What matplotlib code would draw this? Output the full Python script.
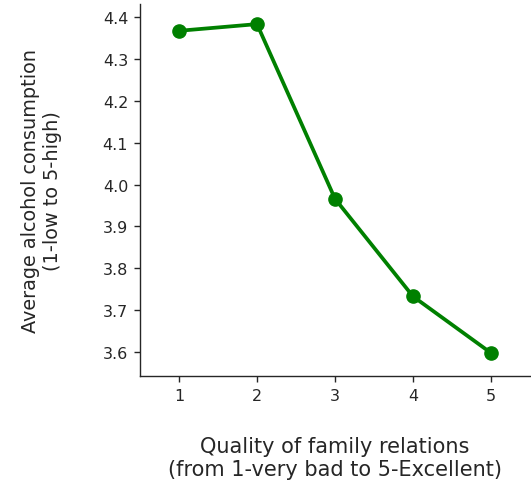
import numpy as np
import matplotlib
matplotlib.use("Agg")
import matplotlib.pyplot as plt

# mean Walc per famrel level
famrel = ['1', '2', '3', '4', '5']
avg_alc = [4.367, 4.383, 3.966, 3.733, 3.598]

dark = '#262626'

fig = plt.figure(figsize=(5.31, 4.81), dpi=100)
ax = fig.add_axes([140/531, (481-377)/481, 390/531, 372/481])

x = np.arange(len(famrel))
ax.plot(x, avg_alc, color='green', lw=2.7, marker='o', ms=9.5, zorder=3)

ax.set_xticks(x)
ax.set_xticklabels(famrel)
ax.set_xlim(-0.5, len(famrel) - 0.5)
ax.set_yticks([3.6, 3.7, 3.8, 3.9, 4.0, 4.1, 4.2, 4.3, 4.4])
ax.set_ylim(3.543, 4.431)

for s in ['top', 'right']:
    ax.spines[s].set_visible(False)
for s in ['left', 'bottom']:
    ax.spines[s].set_color(dark)
    ax.spines[s].set_linewidth(1.0)

ax.tick_params(colors=dark, labelsize=11.5, length=4.5, width=1.0, pad=4)

ax.set_xlabel('Quality of family relations\n(from 1-very bad to 5-Excellent)',
              fontsize=15, color=dark, labelpad=24)
ax.set_ylabel('Average alcohol consumption\n(1-low to 5-high)',
              fontsize=13.9, color=dark, labelpad=29)

fig.savefig('out.png', dpi=100)
